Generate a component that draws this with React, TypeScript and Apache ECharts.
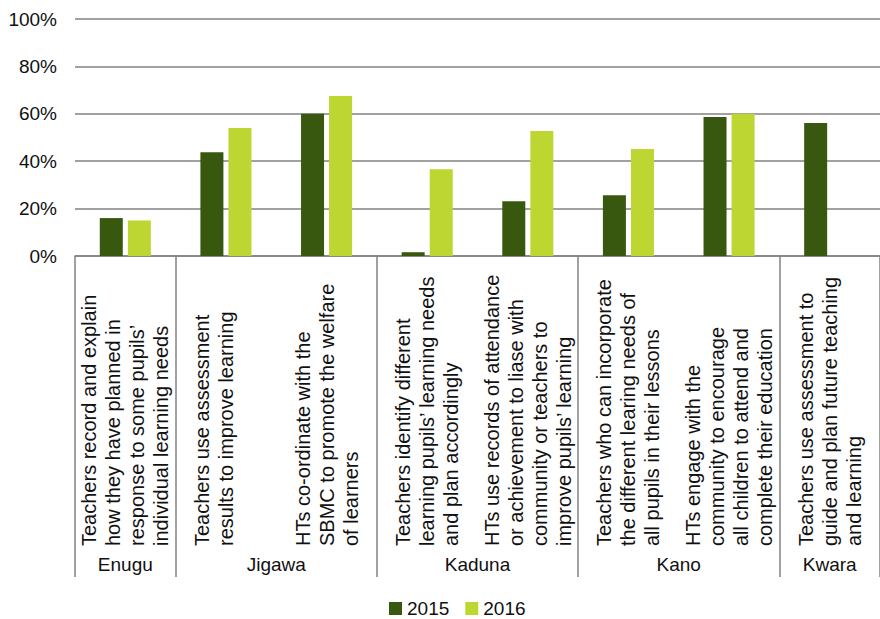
import React, { useEffect, useRef } from "react";
import * as echarts from "echarts";

const categories: string[] = [
  "Teachers record and explain\nhow they have planned in\nresponse to some pupils’\nindividual learning needs",
  "Teachers use assessment\nresults to improve learning\n ",
  "HTs co-ordinate with the\nSBMC to promote the welfare\nof learners",
  "Teachers identify different\nlearning pupils’ learning needs\nand plan accordingly",
  "HTs use records of attendance\nor achievement to liase with\ncommunity or teachers to\nimprove pupils’ learning",
  "Teachers who can incorporate\nthe different learing needs of\nall pupils in their lessons",
  "HTs engage with the\ncommunity to encourage\nall children to attend and\ncomplete their education",
  "Teachers use assessment to\nguide and plan future teaching\nand learning",
];

const groupNames: string[] = ["Enugu", "Jigawa", "Kaduna", "Kano", "Kwara"];
const groupStarts: number[] = [0, 1, 3, 5, 7];
const groupEnds: number[] = [0, 2, 4, 6, 7];

const seriesNames: string[] = ["2015", "2016"];
const values2015: (number | null)[] = [16, 43.8, 60, 1.6, 23.1, 25.6, 58.6, 56.1];
const values2016: (number | null)[] = [15, 54, 67.5, 36.6, 52.7, 45.1, 60, null];

const yTicks: number[] = [0, 20, 40, 60, 80, 100];

const FONT = "'Liberation Sans', Arial, Helvetica, sans-serif";
const TEXT = "#111111";
const GRIDC = "#828282";

export default function App() {
  const ref = useRef<HTMLDivElement>(null);
  useEffect(() => {
    if (!ref.current) return;
    const chart = echarts.init(ref.current, undefined, { renderer: "svg" });
    chart.setOption({
      animation: false,
      backgroundColor: "#ffffff",
      textStyle: { fontFamily: FONT },
      grid: { left: 75, top: 19, width: 815, height: 237, containLabel: false },
      legend: {
        data: seriesNames,
        left: 384,
        top: 594,
        itemWidth: 13,
        itemHeight: 13,
        itemGap: 16,
        icon: "rect",
        textStyle: { fontSize: 19, lineHeight: 16, color: TEXT, fontFamily: FONT },
      },
      xAxis: {
        type: "category",
        data: categories,
        axisLine: { show: true, lineStyle: { color: GRIDC, width: 1.5 } },
        axisTick: {
          show: true,
          interval: (i: number) => groupStarts.indexOf(i) >= 0,
          length: 321,
          lineStyle: { color: GRIDC, width: 1.5 },
        },
        axisLabel: {
          interval: 0,
          rotate: 90,
          align: "left",
          verticalAlign: "middle",
          margin: 290,
          fontSize: 20,
          lineHeight: 24,
          color: TEXT,
          fontFamily: FONT,
        },
        splitLine: { show: false },
      },
      yAxis: {
        type: "value",
        min: yTicks[0],
        max: yTicks[yTicks.length - 1],
        interval: 20,
        axisLine: { show: false },
        axisTick: { show: false },
        axisLabel: {
          formatter: "{value}%",
          fontSize: 19,
          color: TEXT,
          margin: 18,
          padding: [7, 0, 0, 0],
          fontFamily: FONT,
        },
        splitLine: { show: true, lineStyle: { color: GRIDC, width: 1.5 } },
      },
      series: [
        {
          name: seriesNames[0],
          type: "bar",
          data: values2015,
          barWidth: 23,
          barGap: "22%",
          itemStyle: { color: "#38580f" },
        },
        {
          name: seriesNames[1],
          type: "bar",
          data: values2016,
          barWidth: 23,
          barGap: "22%",
          itemStyle: { color: "#bdd632" },
        },
      ],
    });

    const elements = groupNames.map((name, gi) => {
      const x1 = chart.convertToPixel({ xAxisIndex: 0 }, categories[groupStarts[gi]]) as number;
      const x2 = chart.convertToPixel({ xAxisIndex: 0 }, categories[groupEnds[gi]]) as number;
      return {
        type: "text",
        x: (x1 + x2) / 2,
        y: 564,
        style: {
          text: name,
          fill: TEXT,
          font: `19px ${FONT}`,
          align: "center",
          verticalAlign: "middle",
          textAlign: "center",
          textVerticalAlign: "middle",
        },
      };
    });
    chart.setOption({ graphic: { elements } });

    return () => chart.dispose();
  }, []);
  return (
    <div
      ref={ref}
      style={{ position: "absolute", left: 0, top: 0, width: 880, height: 619 }}
    />
  );
}
